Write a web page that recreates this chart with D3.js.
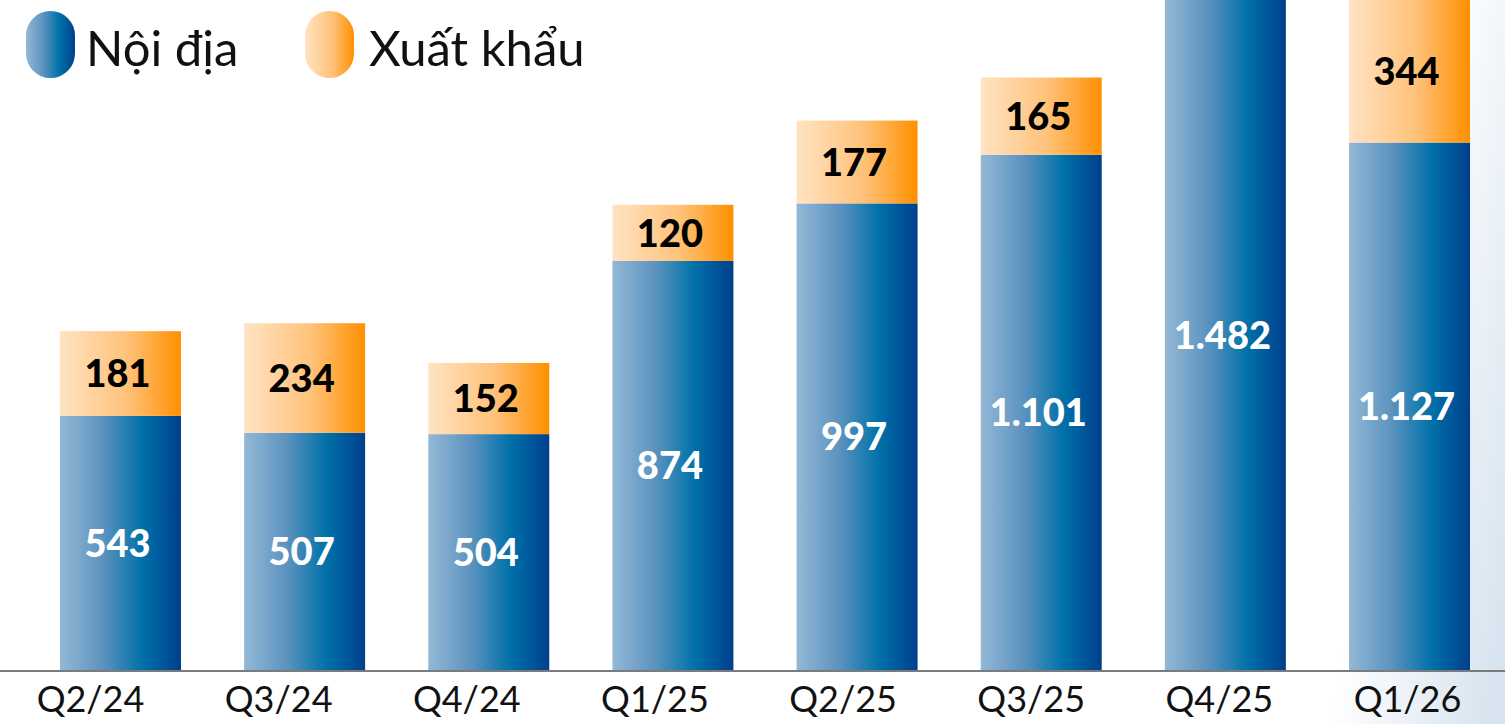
<!DOCTYPE html>
<html>
<head>
<meta charset="utf-8">
<script src="https://cdn.jsdelivr.net/npm/d3@7"></script>
<style>
  html, body { margin: 0; padding: 0; background: #fff; overflow: hidden; }
  svg { display: block; }
</style>
</head>
<body>
<div id="chart"></div>
<script>
// quarters and values (tấn)
var quarters = ["Q2/24", "Q3/24", "Q4/24", "Q1/25", "Q2/25", "Q3/25", "Q4/25", "Q1/26"];
var domestic = [543, 507, 504, 874, 997, 1101, 1482, 1127];
var exportVals = [181, 234, 152, 120, 177, 165, null, 344];
var seriesNames = ["Nội địa", "Xuất khẩu"];

var width = 1505, height = 724;
var baseY = 670;

var svg = d3.select("#chart").append("svg")
  .attr("width", width)
  .attr("height", height);

var defs = svg.append("defs");

// background wash, light blue towards the right edge
var bg = defs.append("linearGradient").attr("id", "bg")
  .attr("gradientUnits", "userSpaceOnUse")
  .attr("x1", 1334).attr("y1", 700).attr("x2", 1486).attr("y2", 726);
bg.append("stop").attr("offset", "0").attr("stop-color", "#ffffff");
bg.append("stop").attr("offset", "1").attr("stop-color", "#d7e4ef");

var blue = defs.append("linearGradient").attr("id", "blueGrad")
  .attr("x1", "0").attr("y1", "0").attr("x2", "1").attr("y2", "0");
blue.append("stop").attr("offset", "0").attr("stop-color", "#93b8d6");
blue.append("stop").attr("offset", "0.35").attr("stop-color", "#5d93bf");
blue.append("stop").attr("offset", "0.68").attr("stop-color", "#0071a9");
blue.append("stop").attr("offset", "1").attr("stop-color", "#003f8c");

var orange = defs.append("linearGradient").attr("id", "orangeGrad")
  .attr("x1", "0").attr("y1", "0").attr("x2", "1").attr("y2", "0");
orange.append("stop").attr("offset", "0").attr("stop-color", "#ffe3c3");
orange.append("stop").attr("offset", "0.55").attr("stop-color", "#ffc27a");
orange.append("stop").attr("offset", "1").attr("stop-color", "#ff9000");

svg.append("rect")
  .attr("width", width).attr("height", height)
  .attr("fill", "url(#bg)");

var x = d3.scaleBand()
  .domain(quarters)
  .range([28.4, 1501.6])
  .paddingInner(0.343)
  .paddingOuter(0.1715);

// the category labels sit on a slightly wider spacing than the bars
var xLabel = d3.scalePoint()
  .domain(quarters)
  .range([90, 1407]);

var y = d3.scaleLinear()
  .domain([0, 1000])
  .range([baseY, baseY - 468]);

var fmt = d3.formatLocale({ decimal: ",", thousands: ".", grouping: [3], currency: ["", ""] }).format(",d");

var rows = quarters.map(function(q, i) {
  return { q: q, dom: domestic[i], exp: exportVals[i] };
});

// domestic bars
svg.append("g").selectAll("rect")
  .data(rows)
  .enter()
  .append("rect")
  .attr("x", d => x(d.q))
  .attr("y", d => y(d.dom))
  .attr("width", x.bandwidth())
  .attr("height", d => y(0) - y(d.dom))
  .attr("fill", "url(#blueGrad)");

// export bars on top
var expRows = rows.filter(d => d.exp != null);
svg.append("g").selectAll("rect")
  .data(expRows)
  .enter()
  .append("rect")
  .attr("x", d => x(d.q))
  .attr("y", d => y(d.dom + d.exp))
  .attr("width", x.bandwidth())
  .attr("height", d => y(d.dom) - y(d.dom + d.exp))
  .attr("fill", "url(#orangeGrad)");

// labels, centered in the visible part of each segment
function mid(top, bottom) {
  return (Math.max(top, 0) + bottom) / 2;
}

svg.append("g").selectAll("text")
  .data(rows)
  .enter()
  .append("text")
  .attr("x", d => x(d.q) + x.bandwidth() / 2 - 3)
  .attr("y", d => mid(y(d.dom), y(0)))
  .attr("dy", "0.36em")
  .attr("text-anchor", "middle")
  .attr("fill", "#ffffff")
  .style("font-family", "Lato, 'Open Sans', sans-serif")
  .style("font-weight", "900")
  .style("font-size", "38px")
  .text(d => fmt(d.dom));

svg.append("g").selectAll("text")
  .data(expRows)
  .enter()
  .append("text")
  .attr("x", d => x(d.q) + x.bandwidth() / 2 - 3)
  .attr("y", d => mid(y(d.dom + d.exp), y(d.dom)))
  .attr("dy", "0.36em")
  .attr("text-anchor", "middle")
  .attr("fill", "#000000")
  .style("font-family", "Lato, 'Open Sans', sans-serif")
  .style("font-weight", "900")
  .style("font-size", "38px")
  .text(d => fmt(d.exp));

// baseline
svg.append("line")
  .attr("x1", 0).attr("x2", width)
  .attr("y1", baseY + 1).attr("y2", baseY + 1)
  .attr("stroke", "#7b7b7b")
  .attr("stroke-width", 2);

// x axis labels
var xAxis = svg.append("g")
  .attr("transform", "translate(0," + (baseY + 2) + ")")
  .call(d3.axisBottom(xLabel).tickSize(0).tickPadding(14));
xAxis.select(".domain").remove();
xAxis.selectAll("text")
  .attr("fill", "#111")
  .style("font-family", "Lato, 'Noto Sans', sans-serif")
  .style("font-weight", "400")
  .style("font-size", "36px");

// legend
var legend = svg.append("g");
var legendItems = [
  { name: seriesNames[0], fill: "url(#blueGrad)", px: 26, tx: 86 },
  { name: seriesNames[1], fill: "url(#orangeGrad)", px: 305, tx: 369 }
];
legendItems.forEach(function(it) {
  legend.append("rect")
    .attr("x", it.px).attr("y", 11)
    .attr("width", 49).attr("height", 67)
    .attr("rx", 24.5).attr("ry", 24.5)
    .attr("fill", it.fill);
  legend.append("text")
    .attr("x", it.tx).attr("y", 66)
    .attr("fill", "#111")
    .style("font-family", "Lato, 'Noto Sans', sans-serif")
    .style("font-size", "49px")
    .text(it.name);
});
</script>
</body>
</html>
